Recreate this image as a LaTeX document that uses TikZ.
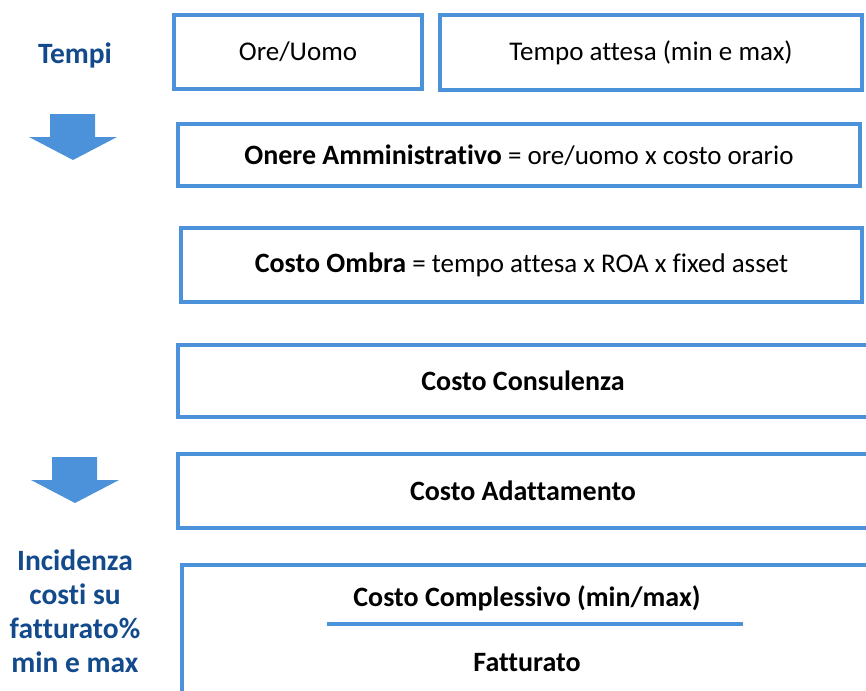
\documentclass[tikz,border=0pt]{standalone}
\usepackage{fontspec}
\setmainfont{Carlito}[Ligatures=NoCommon]
\usetikzlibrary{positioning}
\definecolor{boxblue}{RGB}{76,146,218}
\definecolor{labelblue}{RGB}{18,74,140}
\newcommand{\boldpart}[1]{{\fontsize{28}{32}\selectfont\bfseries #1}}
\tikzset{
  costbox/.style={draw=boxblue, line width=4pt, rectangle, inner sep=0pt, font=\fontsize{27}{31}\selectfont},
  sidelabel/.style={text=labelblue, align=center, font=\fontsize{29.5}{34}\selectfont\bfseries},
  innertext/.style={inner sep=0pt, font=\fontsize{28}{32}\selectfont\bfseries}
}
\begin{document}
\begin{tikzpicture}[x=1pt,y=-1pt]
\useasboundingbox (0,0) rectangle (866,690);
\clip (0,0) rectangle (866,690);
% left labels
\node[sidelabel] (tempi) at (75,55) {Tempi};
\node[sidelabel] (incidenza) at (75,611) {Incidenza\\costi su\\fatturato\%\\min e max};
% the two block arrows, edit here for their positions
\foreach \x/\y in {50/114,52/457}
\fill[shift={(\x,\y)},boxblue] (0,0) -- (45,0) -- (45,23) -- (67,23) -- (23,46) -- (-21,23) -- (0,23) -- cycle;
% boxes
\node[costbox, minimum width=248, minimum height=74] (oreuomo) at (298,52) {Ore/Uomo};
\node[costbox, minimum width=422, minimum height=75] (attesa) at (651,52.5) {Tempo attesa (min e max)};
\node[costbox, minimum width=682, minimum height=62] (onere) at (519,155) {\boldpart{Onere Amministrativo} = ore/uomo x costo orario};
\node[costbox, minimum width=681, minimum height=74] (ombra) at (521.5,265) {\boldpart{Costo Ombra} = tempo attesa x ROA x fixed asset};
\node[costbox, minimum width=690, minimum height=72] (consulenza) at (523,381) {\boldpart{Costo Consulenza}};
\node[costbox, minimum width=690, minimum height=74] (adattamento) at (523,491) {\boldpart{Costo Adattamento}};
\node[costbox, minimum width=690, minimum height=155] (complessivo) at (527,642.5) {};
% the ratio inside the last box
\node[innertext] (costo) at (527,598) {Costo Complessivo (min/max)};
\node[innertext] (fatturato) at (527,663) {Fatturato};
\coordinate (barl) at (327,624);
\coordinate (barr) at (743,624);
\draw[boxblue, line width=4pt] (barl) -- (barr);
\end{tikzpicture}
\end{document}
